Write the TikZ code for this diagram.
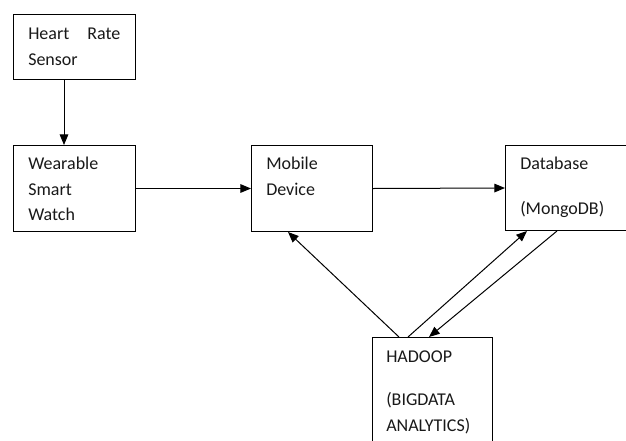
\documentclass[tikz,border=0pt]{standalone}
\usepackage{fontspec}
\setmainfont{Carlito}
\usetikzlibrary{arrows.meta}
\begin{document}
\begin{tikzpicture}[x=0.75pt,y=-0.75pt,
  box/.style={draw=black,line width=0.75pt,rectangle,inner sep=0pt,anchor=north west},
  txt/.style={anchor=base west,inner sep=0pt,font=\fontsize{13.5}{16}\selectfont,text=black!90},
  arr/.style={draw=black,line width=0.75pt,-{Triangle[length=8pt,width=6.5pt]}}]
\useasboundingbox (0,0) rectangle (626,440);
\clip (0,0) rectangle (626,440);
% boxes
\node[box,minimum width=91.5pt,minimum height=48.75pt] (heart) at (13,14) {};
\node[box,minimum width=91.5pt,minimum height=64.5pt] (wear) at (13,145) {};
\node[box,minimum width=90.75pt,minimum height=64.5pt] (mob) at (251,145) {};
\node[box,minimum width=90.4pt,minimum height=63.75pt] (db) at (505,145) {};
\node[box,minimum width=90pt,minimum height=97.5pt] (had) at (372,337) {};
% texts
\node[txt] (t1) at (28,39) {\makebox[69pt][l]{Heart\hfill Rate}};
\node[txt] (t2) at (28,65) {Sensor};
\node[txt] (t3) at (28,169) {Wearable};
\node[txt] (t4) at (28,195) {Smart};
\node[txt] (t5) at (28,220) {Watch};
\node[txt] (t6) at (266,169) {Mobile};
\node[txt] (t7) at (266,195) {Device};
\node[txt] (t8) at (520,169) {Database};
\node[txt] (t9) at (520,214) {(MongoDB)};
\node[txt] (t10) at (386,362) {HADOOP};
\node[txt] (t11) at (386,405) {(BIGDATA};
\node[txt] (t12) at (386,431) {ANALYTICS)};
% connectors
\draw[arr] ([xshift=38.25pt]heart.south west) -- ([xshift=38.25pt]wear.north west);
\draw[arr] (wear.east) -- (mob.west);
\draw[arr] (mob.east) -- (db.west);
\draw[arr] ([xshift=20.25pt]had.north west) -- ([xshift=27.75pt]mob.south west);
\draw[arr] ([xshift=27pt]had.north west) -- ([xshift=16.5pt]db.south west);
\draw[arr] ([xshift=39pt]db.south west) -- ([xshift=42.75pt]had.north west);
\end{tikzpicture}
\end{document}
